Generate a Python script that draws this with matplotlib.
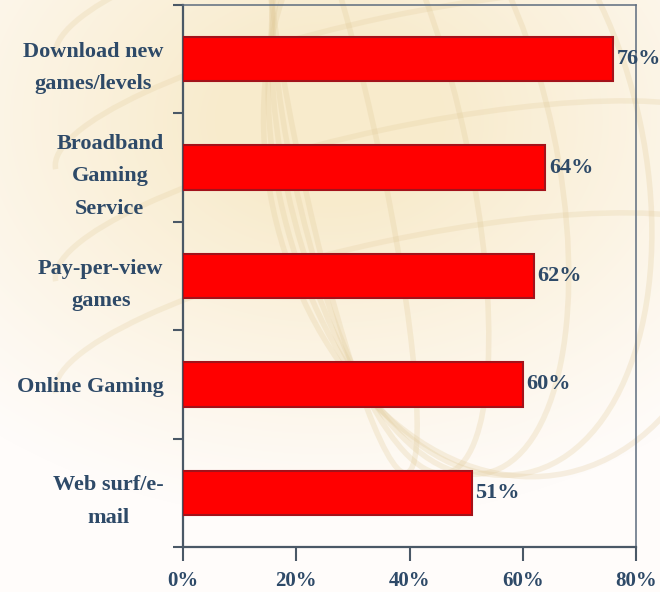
import numpy as np
import matplotlib
matplotlib.use("Agg")
import matplotlib.pyplot as plt
from matplotlib.patches import Ellipse, Arc

# Survey data: share of respondents interested in each online feature
categories = [
    "Download new\ngames/levels",
    "Broadband\nGaming\nService",
    "Pay-per-view\ngames",
    "Online Gaming",
    "Web surf/e-\nmail",
]
values = [76, 64, 62, 60, 51]
xticks = [0, 20, 40, 60, 80]
xtick_labels = ["0%", "20%", "40%", "60%", "80%"]

W, H, DPI = 660, 592, 100
text_color = "#2e4a68"
font = dict(family="Liberation Serif", weight="bold")

fig = plt.figure(figsize=(W / DPI, H / DPI), dpi=DPI)

# Soft cream backdrop with a faint globe wireframe
bg = fig.add_axes([0, 0, 1, 1], zorder=-10)
yy, xx = np.mgrid[0:H, 0:W]
d = np.sqrt(((xx - 330) / 430.0) ** 2 + ((yy - 120) / 320.0) ** 2)
w = np.clip(1.25 - d, 0, 1) ** 1.1
cream = np.array([248, 235, 204]) / 255.0
white = np.array([255, 252, 250]) / 255.0
img = white[None, None, :] * (1 - w[..., None]) + cream[None, None, :] * w[..., None]
bg.imshow(img, extent=[0, W, H, 0], aspect="auto")
bg.set_xlim(0, W)
bg.set_ylim(H, 0)
bg.axis("off")
globe_c = "#e2cc9c"
cx, cy, r = 400, 160, 320
for k, wd in enumerate([0.25, 0.55, 0.85, 1.15, 1.45]):
    bg.add_patch(Ellipse((cx - 60 + k * 40, cy), r * wd, 2 * r, angle=-12,
                         fill=False, ec=globe_c, lw=4, alpha=0.28))
for k, hy in enumerate([-0.55, -0.2, 0.15, 0.5]):
    bg.add_patch(Arc((cx, cy + hy * r), 2.2 * r, 0.5 * r, angle=-12,
                     theta1=180, theta2=360, ec=globe_c, lw=4, alpha=0.25))

ax = fig.add_axes([183 / W, 1 - 547 / H, (636 - 183) / W, (547 - 5) / H])
ax.set_facecolor("none")

y = np.arange(len(categories))
ax.barh(y, values, height=0.41, color="#ff0000", edgecolor="#a3121a",
        linewidth=1.5, zorder=3)
for yi, v in zip(y, values):
    ax.text(v + 0.6, yi, f"{v}%", va="center", ha="left", fontsize=16,
            color=text_color, zorder=4, clip_on=False, **font)

ax.set_xlim(0, 80)
ax.set_ylim(len(categories) - 0.5, -0.5)
ax.set_xticks(xticks)
ax.set_xticklabels(xtick_labels, fontsize=15, color=text_color, **font)
ax.set_yticks(y)
ax.set_yticklabels(categories, fontsize=16, color=text_color,
                   multialignment="center", linespacing=1.85, **font)
ax.set_yticks(np.arange(-0.5, len(categories)), minor=True)
ax.tick_params(axis="y", which="major", length=0, pad=14)
ax.tick_params(axis="y", which="minor", length=7, width=1.5, color="#4a5866",
               direction="out")
ax.tick_params(axis="x", length=10, width=1.5, color="#4a5866", pad=7,
               direction="out")

for side in ["left", "bottom"]:
    ax.spines[side].set_color("#4a5866")
    ax.spines[side].set_linewidth(1.6)
for side in ["top", "right"]:
    ax.spines[side].set_color("#5d6c7e")
    ax.spines[side].set_linewidth(1.1)

fig.savefig("out.png", dpi=DPI)
